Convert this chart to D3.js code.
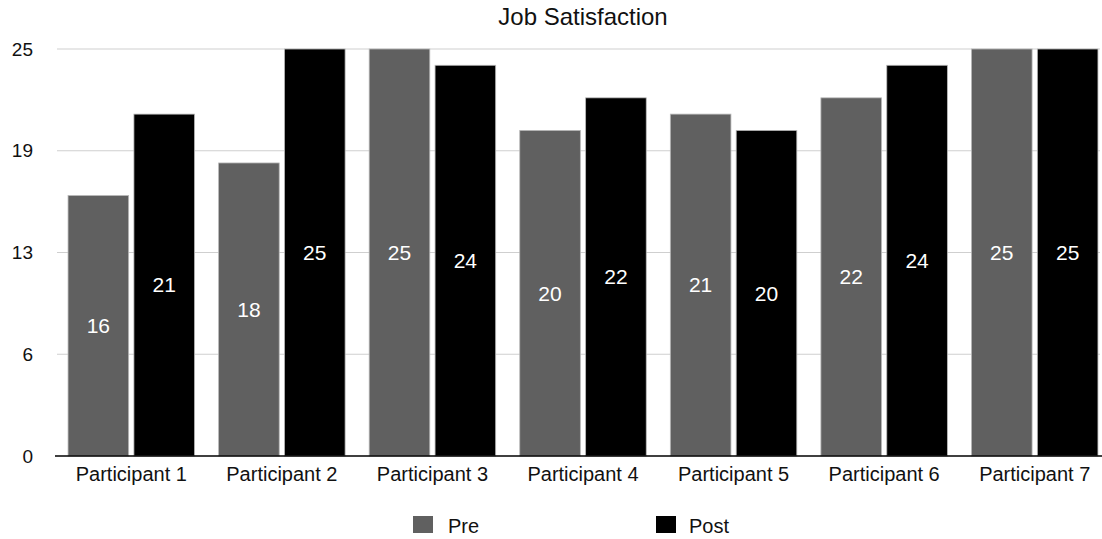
<!DOCTYPE html>
<html>
<head>
<meta charset="utf-8">
<script src="https://cdn.jsdelivr.net/npm/d3@7"></script>
<style>
  html, body { margin: 0; padding: 0; background: #fff; }
  svg { display: block; font-family: "Liberation Sans", Arial, Helvetica, sans-serif; }
</style>
</head>
<body>
<svg id="chart" width="1102" height="539"></svg>
<script>
// Job satisfaction scores before and after, per participant
const participants = ["Participant 1", "Participant 2", "Participant 3", "Participant 4",
                      "Participant 5", "Participant 6", "Participant 7"];
const preScores  = [16, 18, 25, 20, 21, 22, 25];
const postScores = [21, 25, 24, 22, 20, 24, 25];
const seriesNames = ["Pre", "Post"];
const seriesColors = ["#606060", "#000000"];
const tickValues = [0, 6.25, 12.5, 18.75, 25];
const tickLabels = ["0", "6", "13", "19", "25"];

const svg = d3.select("#chart");
const margin = { left: 56, right: -8, top: 49, bottom: 83 };
const W = 1102, H = 539;
const plotW = W - margin.left - margin.right;
const plotH = H - margin.top - margin.bottom;
const FONT = "\"Liberation Sans\", Arial, sans-serif";

const g = svg.append("g").attr("transform", `translate(${margin.left},${margin.top})`);

const x0 = d3.scaleBand().domain(participants).range([0, plotW]).paddingInner(0.16).paddingOuter(0.08);
const x1 = d3.scaleBand().domain(seriesNames).range([0, x0.bandwidth()]).paddingInner(0.08).paddingOuter(0);
const y = d3.scaleLinear().domain([0, 25]).range([plotH, 0]);

// Horizontal gridlines
g.append("g")
  .selectAll("line")
  .data(tickValues.filter(v => v > 0))
  .join("line")
  .attr("x1", 1).attr("x2", W - margin.left - 2)
  .attr("y1", d => y(d)).attr("y2", d => y(d))
  .attr("stroke", "#cfcfcf").attr("stroke-width", 1);

// Y axis labels
const yAxis = d3.axisLeft(y).tickValues(tickValues)
  .tickFormat((d, i) => tickLabels[i]).tickSize(0).tickPadding(23);
const yg = g.append("g").call(yAxis);
yg.select(".domain").remove();
yg.selectAll("text").attr("font-size", 19).attr("fill", "#111").attr("font-family", FONT);

// Bars
const rows = participants.map((p, i) => ({ p, values: [preScores[i], postScores[i]] }));
const groups = g.append("g").selectAll("g")
  .data(rows).join("g")
  .attr("transform", d => `translate(${x0(d.p)},0)`);

groups.selectAll("rect")
  .data(d => d.values.map((v, k) => ({ v, k })))
  .join("rect")
  .attr("x", d => x1(seriesNames[d.k]))
  .attr("width", x1.bandwidth())
  .attr("y", d => y(d.v))
  .attr("height", d => y(0) - y(d.v))
  .attr("fill", d => seriesColors[d.k])
  .attr("stroke", "#b8b8b8").attr("stroke-width", 0.8);

// Value labels centred in each bar
groups.selectAll("text.val")
  .data(d => d.values.map((v, k) => ({ v, k })))
  .join("text")
  .attr("class", "val")
  .attr("x", d => x1(seriesNames[d.k]) + x1.bandwidth() / 2)
  .attr("y", d => (y(d.v) + y(0)) / 2)
  .attr("dy", "0.35em")
  .attr("text-anchor", "middle")
  .attr("font-size", 21)
  .attr("fill", "#fff")
  .text(d => d.v);

// X axis baseline and category labels
const xAxis = d3.axisBottom(x0).tickSize(0).tickPadding(11);
const xg = g.append("g").attr("transform", `translate(0,${plotH})`).call(xAxis);
xg.select(".domain").remove();
xg.selectAll("text").attr("font-size", 20).attr("fill", "#111").attr("font-family", FONT);
g.append("line")
  .attr("x1", -1).attr("x2", W - margin.left)
  .attr("y1", y(0)).attr("y2", y(0))
  .attr("stroke", "#000").attr("stroke-width", 1.5);

// Title, centred over the plot area
svg.append("text")
  .attr("x", margin.left + plotW / 2).attr("y", 25)
  .attr("text-anchor", "middle")
  .attr("font-size", 24).attr("fill", "#111")
  .text("Job Satisfaction");

// Legend
const legendX = [413, 656];
const legend = svg.append("g").selectAll("g")
  .data(seriesNames).join("g")
  .attr("transform", (d, i) => `translate(${legendX[i]},516)`);
legend.append("rect")
  .attr("width", 20).attr("height", 17)
  .attr("fill", (d, i) => seriesColors[i]);
legend.append("text")
  .attr("x", (d, i) => i === 0 ? 35 : 33).attr("y", 17)
  .attr("font-size", 20).attr("fill", "#111")
  .text(d => d);
</script>
</body>
</html>
